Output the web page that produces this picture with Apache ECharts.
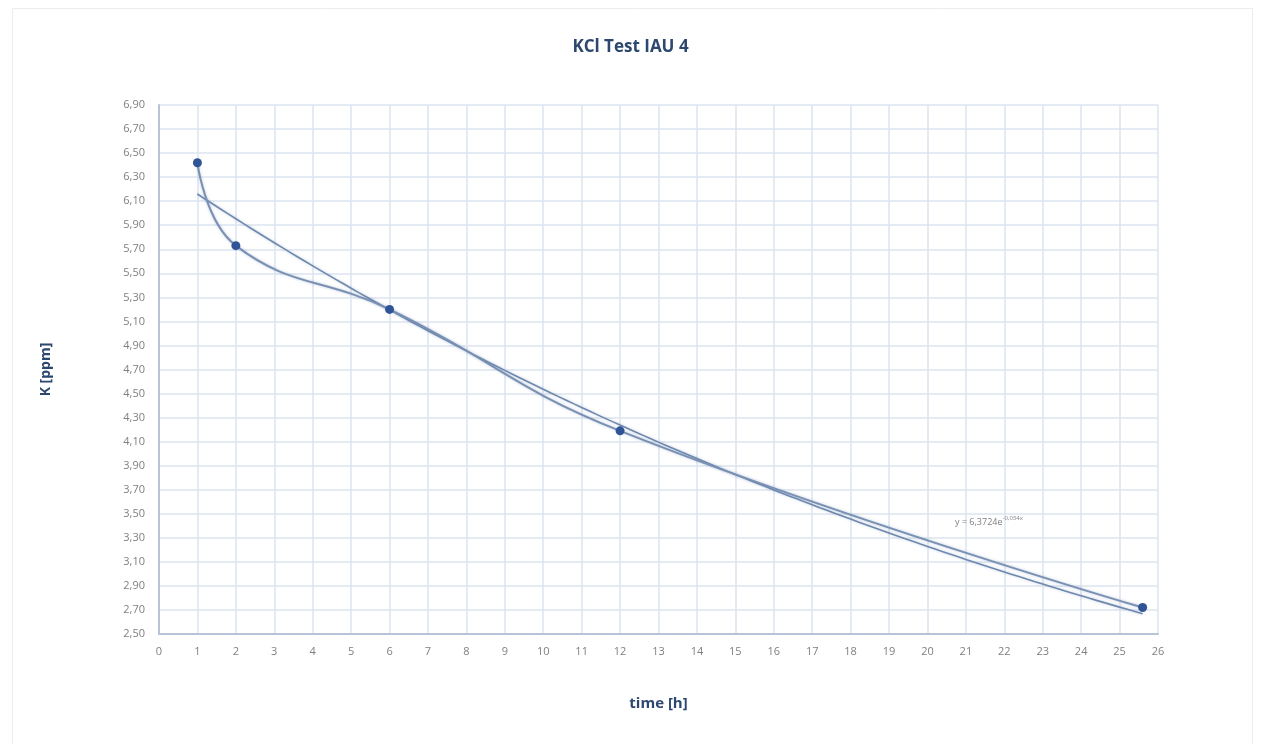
<!DOCTYPE html>
<html>
<head>
<meta charset="utf-8">
<script src="https://cdn.jsdelivr.net/npm/echarts@6/dist/echarts.min.js"></script>
<style>html,body{margin:0;padding:0;background:#fff}#c{width:1261px;height:744px}</style>
</head>
<body>
<div id="c"></div>
<script>
// measured data
var timeH = [1, 2, 6, 12, 25.6];
var kPpm = [6.42, 5.73, 5.20, 4.19, 2.72];
// exponential trendline shown on chart: y = 6,3724 e^(-0,034x)
var trendCoef = [6.3724, -0.034];
var trendRange = [1, 25.6];
var trendLabel = ['y = 6,3724e', '-0,034x'];
var trendLabelAt = [21.6, 3.43];

var trend = [];
for (var i = 0; i <= 123; i++) {
  var x = trendRange[0] + (trendRange[1] - trendRange[0]) * i / 123;
  trend.push([x, trendCoef[0] * Math.exp(trendCoef[1] * x)]);
}
var pts = timeH.map(function (t, i) { return [t, kPpm[i]]; });

var chart = echarts.init(document.getElementById('c'));
var font = 'Open Sans';
chart.setOption({
  backgroundColor: '#fff',
  animation: false,
  graphic: [{
    type: 'rect', left: 10, top: 6, shape: { width: 1240, height: 740 },
    style: { fill: 'none', stroke: '#ececec', lineWidth: 1 }
  }],
  title: {
    text: 'KCl Test IAU 4', left: 'center', top: 34,
    textStyle: { fontFamily: font, fontSize: 17, fontWeight: 'bold', color: '#2c4770' }
  },
  grid: { left: 159, right: 103, top: 105, bottom: 110 },
  xAxis: {
    type: 'value', min: 0, max: 26, interval: 1,
    name: 'time [h]', nameLocation: 'middle', nameGap: 62,
    nameTextStyle: { fontFamily: font, fontSize: 15, fontWeight: 'bold', color: '#2c4770' },
    axisLine: { show: true, lineStyle: { color: '#b7c4d8', width: 2 } },
    axisTick: { show: false },
    axisLabel: { margin: 12, fontFamily: font, fontSize: 11, color: '#7f7f7f' },
    splitLine: { show: true, lineStyle: { color: '#dce5f1', width: 1.5 } }
  },
  yAxis: {
    type: 'value', min: 2.5, max: 6.9, interval: 0.2,
    name: 'K [ppm]', nameLocation: 'middle', nameGap: 106, nameRotate: 90,
    nameTextStyle: { fontFamily: font, fontSize: 14, fontWeight: 'bold', color: '#2c4770' },
    axisLine: { show: true, lineStyle: { color: '#b7c4d8', width: 2 } },
    axisTick: { show: false },
    axisLabel: {
      margin: 14, fontFamily: font, fontSize: 11, color: '#7f7f7f',
      formatter: function (v) { return v.toFixed(2).replace('.', ','); }
    },
    splitLine: { show: true, lineStyle: { color: '#dce5f1', width: 1.5 } }
  },
  series: [{
    type: 'line', data: trend, showSymbol: false, symbol: 'none', smooth: false,
    lineStyle: { color: '#6f89ae', width: 1.6, shadowColor: 'rgba(90,120,170,0.35)', shadowBlur: 3 },
    markPoint: {
      symbol: 'circle', symbolSize: 2,
      itemStyle: { color: 'rgba(0,0,0,0)' },
      data: [{ coord: trendLabelAt, value: 0 }],
      label: {
        show: true, position: 'inside',
        formatter: '{a|' + trendLabel[0] + '}{b|' + trendLabel[1] + '}',
        rich: {
          a: { fontFamily: font, fontSize: 9, color: '#7f7f7f' },
          b: { fontFamily: font, fontSize: 6, color: '#7f7f7f', verticalAlign: 'top', padding: [0, 0, 7, 0] }
        }
      }
    },
    z: 2
  }, {
    type: 'line', data: pts, smooth: 0.45,
    symbol: 'circle', symbolSize: 9,
    itemStyle: { color: '#2f5597' },
    lineStyle: { color: '#7990b3', width: 2, shadowColor: 'rgba(90,120,170,0.4)', shadowBlur: 3 },
    z: 3
  }]
});
</script>
</body>
</html>
